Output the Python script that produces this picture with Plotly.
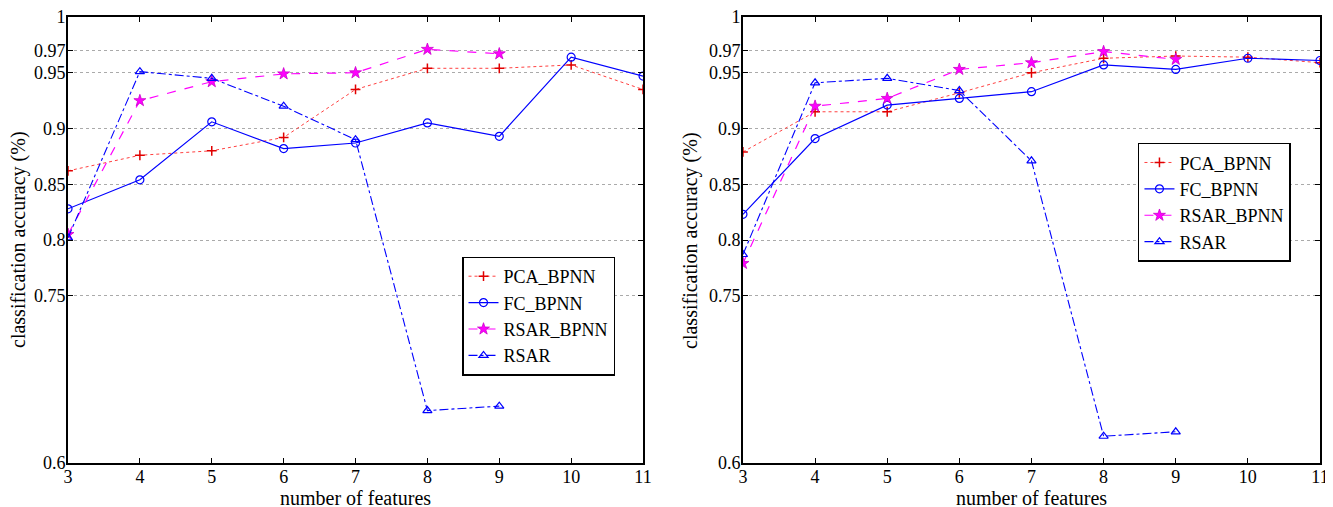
import plotly.graph_objects as go
from plotly.subplots import make_subplots

features = [3, 4, 5, 6, 7, 8, 9, 10, 11]

# left panel
pca_left = [0.862, 0.876, 0.880, 0.892, 0.935, 0.954, 0.954, 0.957, 0.935]
fc_left = [0.828, 0.854, 0.906, 0.882, 0.887, 0.905, 0.893, 0.964, 0.947]
rsar_bpnn_left = [0.805, 0.925, 0.942, 0.949, 0.950, 0.971, 0.967]
rsar_left = [0.802, 0.951, 0.945, 0.920, 0.890, 0.647, 0.651]

# right panel
pca_right = [0.879, 0.915, 0.915, 0.932, 0.950, 0.963, 0.965, 0.964, 0.959]
fc_right = [0.823, 0.891, 0.921, 0.927, 0.933, 0.957, 0.953, 0.963, 0.961]
rsar_bpnn_right = [0.779, 0.920, 0.927, 0.953, 0.959, 0.969, 0.962]
rsar_right = [0.787, 0.941, 0.945, 0.934, 0.871, 0.624, 0.628]

y_ticks = [0.6, 0.75, 0.8, 0.85, 0.9, 0.95, 0.97, 1]
y_ticktext = ["0.6", "0.75", "0.8", "0.85", "0.9", "0.95", "0.97", "1"]

FONT = "Liberation Serif, Times New Roman, serif"

fig = make_subplots(rows=1, cols=2, horizontal_spacing=0.08)


def add_panel(col, pca, fc, rsar_bpnn, rsar, legend):
    fig.add_trace(go.Scatter(
        x=features[:len(pca)], y=pca, name="PCA_BPNN", mode="lines+markers",
        line=dict(color="#ff4040", width=1, dash="dot"),
        marker=dict(symbol="cross-thin-open", size=7, color="#e00000",
                    line=dict(color="#e00000", width=1.5)),
        legend=legend), row=1, col=col)
    fig.add_trace(go.Scatter(
        x=features[:len(fc)], y=fc, name="FC_BPNN", mode="lines+markers",
        line=dict(color="#0000ff", width=1.2),
        marker=dict(symbol="circle-open", size=8, color="#0000ff",
                    line=dict(color="#0000ff", width=1.2)),
        legend=legend), row=1, col=col)
    fig.add_trace(go.Scatter(
        x=features[:len(rsar_bpnn)], y=rsar_bpnn, name="RSAR_BPNN", mode="lines+markers",
        line=dict(color="#ff00ff", width=1.2, dash="dash"),
        marker=dict(symbol="star", size=9, color="#ff00ff",
                    line=dict(color="#cc00cc", width=0.8)),
        legend=legend), row=1, col=col)
    fig.add_trace(go.Scatter(
        x=features[:len(rsar)], y=rsar, name="RSAR", mode="lines+markers",
        line=dict(color="#0000ff", width=1.1, dash="dashdot"),
        marker=dict(symbol="triangle-up-open", size=8, color="#0000ff",
                    line=dict(color="#0000ff", width=1.2)),
        legend=legend), row=1, col=col)


add_panel(1, pca_left, fc_left, rsar_bpnn_left, rsar_left, "legend")
add_panel(2, pca_right, fc_right, rsar_bpnn_right, rsar_right, "legend2")

axis_common = dict(
    showline=True, linecolor="black", linewidth=1.8, mirror="ticks",
    ticks="inside", ticklen=5, tickwidth=1.2, tickcolor="black",
    tickfont=dict(family=FONT, size=18, color="black"),
    zeroline=False, automargin=False, ticklabeloverflow="allow",
)

fig.update_xaxes(range=[3, 11], tickvals=features, showgrid=False,
                 ticklabelstandoff=-4, **axis_common)
fig.update_yaxes(range=[0.6, 1], tickvals=y_ticks, ticktext=y_ticktext,
                 showgrid=True, gridcolor="#aaaaaa", griddash="dot", gridwidth=1.2,
                 ticklabelstandoff=-3, **axis_common)

fig.update_xaxes(domain=[0, 0.4593], row=1, col=1)
fig.update_xaxes(domain=[0.5391, 1], row=1, col=2)

# axis titles as annotations so they sit where the reference has them
title_font = dict(family=FONT, size=20, color="black")
for xd, shift in (("x domain", -50), ("x2 domain", -53)):
    fig.add_annotation(text="classification accuracy (%)", textangle=-90,
                       xref=xd, yref="paper", x=0, y=0.5, xshift=shift,
                       xanchor="center", yanchor="middle", showarrow=False,
                       font=title_font)
for xd in ("x domain", "x2 domain"):
    fig.add_annotation(text="number of features",
                       xref=xd, yref="paper", x=0.5, y=0, yshift=-22,
                       xanchor="center", yanchor="top", showarrow=False,
                       font=title_font)

legend_common = dict(
    bgcolor="white", bordercolor="black", borderwidth=1.5,
    font=dict(family=FONT, size=18, color="black"),
    xanchor="left", yanchor="top", tracegroupgap=0, itemwidth=30,
)

# the page body adds an 8px offset, so margins are shifted to compensate
fig.update_layout(
    width=1333, height=507,
    margin=dict(l=60, r=21, t=9, b=52, autoexpand=False),
    paper_bgcolor="white", plot_bgcolor="white",
    font=dict(family=FONT, color="black"),
    legend=dict(x=0.3147, y=0.463, **legend_common),
    legend2=dict(x=0.8546, y=0.718, **legend_common),
)

fig.write_html("out.html")
